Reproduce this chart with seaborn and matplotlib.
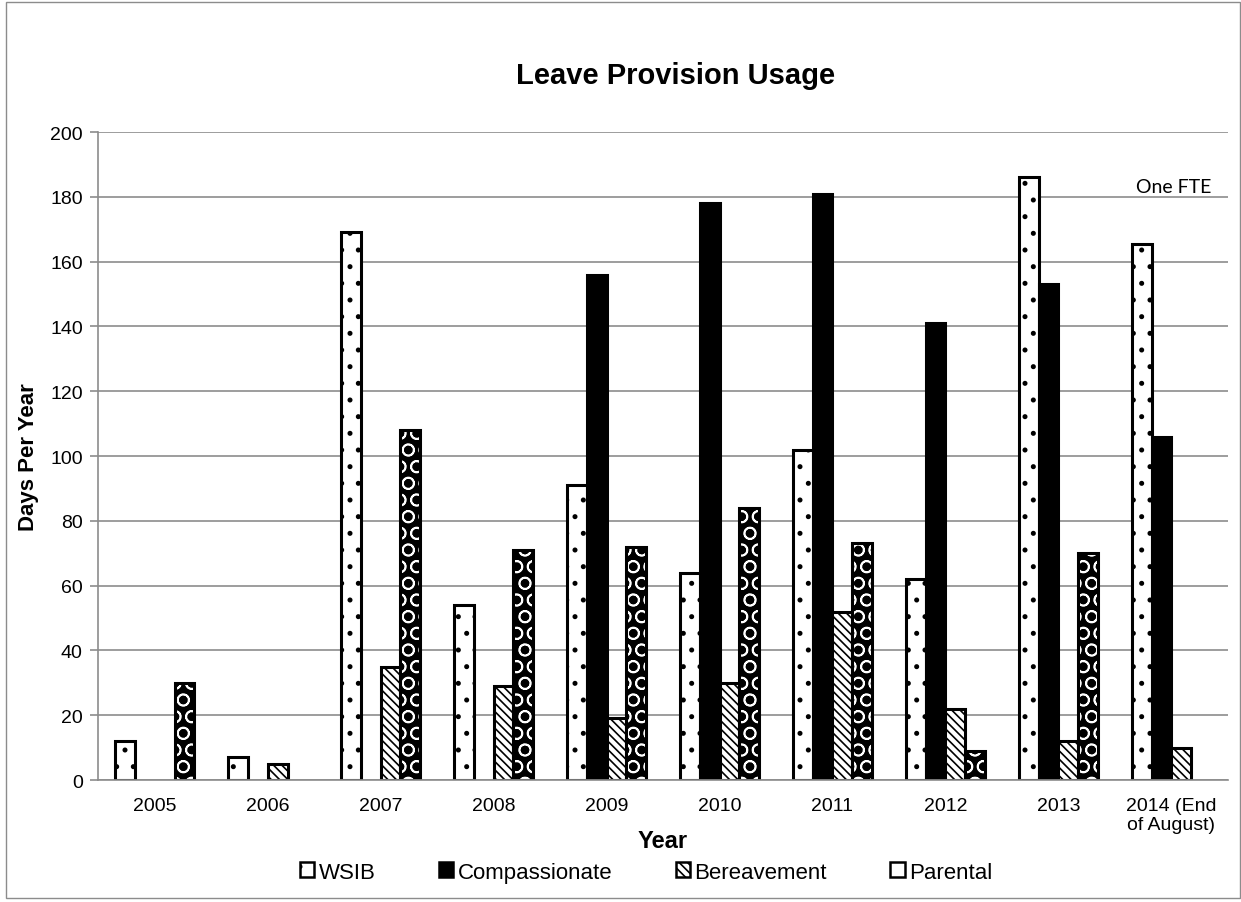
import matplotlib
matplotlib.use("Agg")
import matplotlib.pyplot as plt
from matplotlib.patches import Patch, Rectangle
import seaborn as sns
import pandas as pd

years = ["2005", "2006", "2007", "2008", "2009", "2010", "2011", "2012", "2013",
         "2014 (End\nof August)"]
leave_types = ["WSIB", "Compassionate", "Bereavement", "Parental"]
wsib = [12, 7, 169, 54, 91, 64, 102, 62, 186, 165.5]
compassionate = [0, 0, 0, 0, 156, 178, 181, 141, 153, 106]
bereavement = [0, 5, 35, 29, 19, 30, 52, 22, 12, 10]
parental = [30, 0, 108, 71, 72, 84, 73, 9, 70, 0]

rows = []
for series, vals in zip(leave_types, [wsib, compassionate, bereavement, parental]):
    for y, v in zip(years, vals):
        rows.append({"Year": y, "Leave": series, "Days": v})
df = pd.DataFrame(rows)

sns.set_theme(style="white")
plt.rcParams["font.family"] = ["Liberation Sans", "DejaVu Sans"]
plt.rcParams["hatch.linewidth"] = 1.2
for key in ["text.color", "axes.labelcolor", "xtick.labelcolor", "ytick.labelcolor"]:
    plt.rcParams[key] = "black"

GRID = "#8c8c8c"

fig = plt.figure(figsize=(12.41, 9.03), dpi=100)
ax = fig.add_axes([0.079, 0.1351, 0.9105, 0.7176])

sns.barplot(data=df, x="Year", y="Days", hue="Leave", hue_order=leave_types,
            order=years, width=0.707, ax=ax, legend=False, errorbar=None,
            saturation=1, palette=["white", "black", "white", "black"])

styles = {
    "WSIB": dict(face="white", hatch="."),
    "Compassionate": dict(face="black", hatch=None),
    "Bereavement": dict(face="white", hatch="\\\\\\\\"),
    "Parental": dict(face="black", hatch="O"),
}

for series, cont in zip(leave_types, ax.containers):
    st = styles[series]
    for p in cont.patches:
        if p.get_height() <= 0:
            p.set_visible(False)
            continue
        if series == "Parental":
            # white circle hatch over a black fill, then a black outline on top
            p.set_facecolor("black")
            p.set_edgecolor("white")
            p.set_hatch("O")
            p.set_linewidth(0)
            ax.add_patch(Rectangle(p.get_xy(), p.get_width(), p.get_height(),
                                   fill=False, edgecolor="black", linewidth=2.2,
                                   zorder=p.get_zorder() + 0.1))
        else:
            p.set_facecolor(st["face"])
            p.set_edgecolor("black")
            p.set_linewidth(2.2)
            if st["hatch"]:
                p.set_hatch(st["hatch"])

ax.set_ylim(0, 200)
ax.set_xlim(-0.5, len(years) - 0.5)
ax.set_yticks(range(0, 201, 20))
ax.yaxis.grid(True, color=GRID, linewidth=1.2)
ax.set_axisbelow(True)
for s in ["top", "right"]:
    ax.spines[s].set_visible(False)
for s in ["left", "bottom"]:
    ax.spines[s].set_color(GRID)
    ax.spines[s].set_linewidth(1.2)

ax.set_xticks([i - 0.5 for i in range(len(years) + 1)], minor=True)
ax.tick_params(axis="x", which="minor", length=6, color=GRID, width=1.2)
ax.tick_params(axis="x", which="major", length=0, labelsize=14, pad=12)
ax.tick_params(axis="y", which="major", length=6, color=GRID, width=1.2,
               labelsize=14, left=True, pad=5)

ax.set_xlabel("Year", fontsize=17, fontweight="bold")
ax.xaxis.set_label_coords(0.5, -0.094)
ax.xaxis.label.set_va("center")
ax.set_ylabel("Days Per Year", fontsize=16, fontweight="bold", labelpad=8)

fig.text(0.544, 0.907, "Leave Provision Usage", ha="center", va="baseline",
         fontsize=21, fontweight="bold")

ax.text(0.985, 180.5, "One FTE", transform=ax.get_yaxis_transform(), ha="right",
        va="bottom", fontsize=14, family=["Lato", "DejaVu Sans"])

handles = []
for series in leave_types:
    st = styles[series]
    if series == "Parental":
        handles.append(Patch(facecolor="white", edgecolor="black", linewidth=1.8))
    else:
        handles.append(Patch(facecolor=st["face"], edgecolor="black", linewidth=1.8,
                             hatch=st["hatch"]))
fig.legend(handles, leave_types, loc="center", bbox_to_anchor=(0.5206, 0.0332),
           ncol=4, frameon=False, fontsize=16, handlelength=0.65,
           handleheight=0.65, handletextpad=0.2, columnspacing=2.85,
           borderpad=0)

fig.add_artist(Rectangle((0.005, 0.004), 0.994, 0.993, transform=fig.transFigure,
                         fill=False, edgecolor=GRID, linewidth=1))

fig.savefig("out.png", dpi=100)
